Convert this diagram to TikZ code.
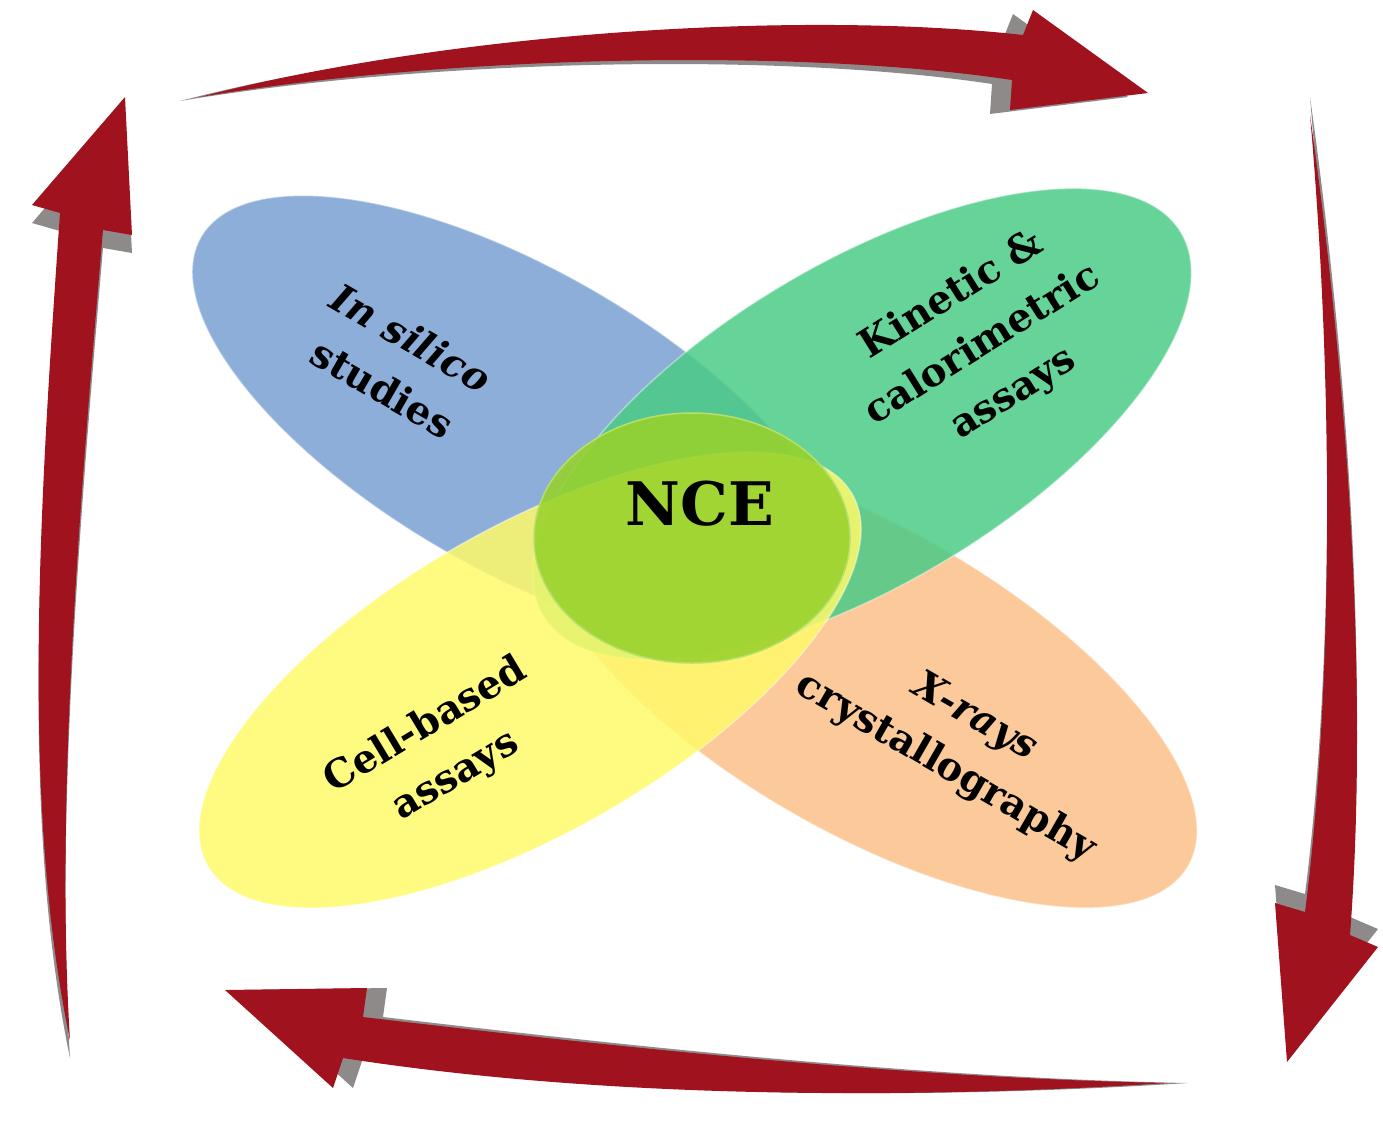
\documentclass[tikz,border=0pt]{standalone}
\usepackage{fontspec}
\setmainfont{DejaVu Serif}
\definecolor{arrowred}{HTML}{A0121E}
\definecolor{arrowgray}{HTML}{8E8A8A}
\definecolor{petalblue}{HTML}{79A0D2}
\definecolor{petalgreen}{HTML}{4BCB86}
\definecolor{petalyellow}{HTML}{FFFA6A}
\definecolor{petalorange}{HTML}{FAC088}
\definecolor{corelime}{HTML}{98D22C}
\begin{document}
\begin{tikzpicture}[x=1pt,y=1pt,
  arrowbody/.style={fill=arrowred},
  arrowside/.style={fill=arrowgray},
  petal/.style={fill opacity=0.85, draw=white, draw opacity=0.4, line width=1.5pt},
  lbl/.style={font=\fontsize{39}{58}\selectfont\bfseries, align=center, text=black, inner sep=0pt}]
\useasboundingbox (0,0) rectangle (1383,-1128);

% ---- curved cycle arrows: grey extrusion first, red face on top ----
\def\toparrow{(200,-97) .. controls (450,-32) and (800,-10) .. (1023,-35) -- (1033,-10) -- (1148,-93) -- (1010,-110) -- (1012,-80) .. controls (800,-48) and (450,-55) .. (200,-97) -- cycle}
\def\rightarrow{(1310,-115) .. controls (1350,-400) and (1368,-700) .. (1350,-935) -- (1378,-947) -- (1287,-1062) -- (1275,-903) -- (1305,-912) .. controls (1332,-700) and (1335,-400) .. (1310,-115) -- cycle}
\def\bottomarrow{(1168,-1083) .. controls (900,-1078) and (600,-1045) .. (363,-1017) -- (367,-988) -- (225,-990) -- (333,-1088) -- (343,-1058) .. controls (600,-1098) and (900,-1100) .. (1168,-1083) -- cycle}
\def\leftarrow{(70,-1040) .. controls (20,-800) and (40,-500) .. (60,-213) -- (32,-205) -- (125,-97) -- (132,-235) -- (103,-230) .. controls (80,-500) and (55,-800) .. (70,-1040) -- cycle}

\fill[arrowside, shift={(-20,-4)}] \toparrow;
\fill[arrowbody] \toparrow;
\fill[arrowside, shift={(0,18)}] \rightarrow;
\fill[arrowbody] \rightarrow;
\fill[arrowside, shift={(20,0)}] \bottomarrow;
\fill[arrowbody] \bottomarrow;
\fill[arrowside, shift={(0,-18)}] \leftarrow;
\fill[arrowbody] \leftarrow;

% ---- four overlapping petals ----
\coordinate (cOrange) at (866,-680);
\coordinate (cBlue) at (518,-420);
\coordinate (cGreen) at (862,-424);
\coordinate (cYellow) at (530,-680);
\path[petal, fill=petalorange, rotate around={-30:(cOrange)}] (cOrange) ellipse [x radius=372, y radius=152];
\path[petal, fill=petalblue, rotate around={-30:(cBlue)}] (cBlue) ellipse [x radius=366, y radius=150];
\path[petal, fill=petalgreen, rotate around={31:(cGreen)}] (cGreen) ellipse [x radius=372, y radius=160];
\path[petal, fill=petalyellow, rotate around={30:(cYellow)}] (cYellow) ellipse [x radius=372, y radius=152];

% ---- central core ----
\coordinate (cCore) at (692,-538);
\path[fill=corelime, fill opacity=0.88, draw=corelime!70!white, line width=1.5pt] (cCore) ellipse [x radius=158, y radius=125];

% ---- labels ----
\node[lbl, rotate=-30] (silico) at (397,-363) {{\itshape In silico}\\studies};
\node[lbl, rotate=32] (kinetic) at (983,-345) {Kinetic \&\\calorimetric\\assays};
\node[lbl, rotate=31] (cell) at (441,-751) {Cell-based\\assays};
\node[lbl, rotate=-30] (xray) at (960,-743) {{\itshape X-rays}\\crystallography};
\node[font=\fontsize{60}{70}\selectfont\bfseries, inner sep=0pt] (nce) at (700,-504) {NCE};
\end{tikzpicture}
\end{document}
